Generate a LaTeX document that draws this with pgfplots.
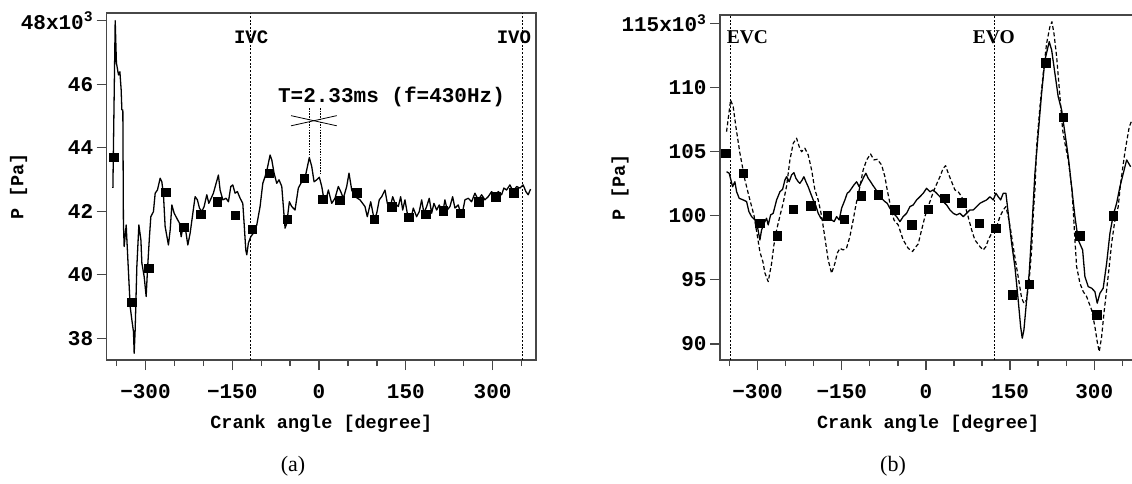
\documentclass[border=0pt]{standalone}
\usepackage{fontspec}
\setmainfont{Liberation Serif}
\setmonofont{Liberation Mono}
\usepackage{pgfplots}
\pgfplotsset{compat=1.18}
\newcommand\tickfont{\fontsize{21}{21}\selectfont\ttfamily\bfseries}
\newcommand\labfont{\fontsize{18.5}{18.5}\selectfont\ttfamily\bfseries}
\newcommand\annfont{\fontsize{19}{19}\selectfont\ttfamily\bfseries}
\newcommand\serfont{\fontsize{19.5}{19.5}\selectfont\rmfamily\bfseries}
\tikzset{vl/.style={black, line width=1.1pt, dash pattern=on 2pt off 1.6pt},
  tl/.style={black, line width=0.8pt, dash pattern=on 1.5pt off 1.2pt}}
\pgfplotsset{
  base/.style={
    scale only axis, anchor=south west,
    axis line style={draw=black!72, line width=1.3pt},
    tick align=outside, tick pos=left,
    major tick length=10pt, minor tick length=6pt,
    every tick/.append style={draw=black!72, line width=1.3pt},
    xmin=-367, xmax=375,
    xtick={-300,-150,0,150,300},
    xticklabels={−300,−150,0,150,300},
    minor xtick={-350,-250,-200,-100,-50,50,100,200,250,350},
    ticklabel style={font=\tickfont},
    xticklabel style={yshift=-10.5pt},
    label style={font=\labfont},
    xlabel={Crank angle [degree]}, ylabel={P [Pa]},
    clip=true,
  },
  mk/.style={only marks, mark=square*, mark size=4.3pt, black},
  sol/.style={black, line width=1.3pt, line join=round},
  dsh/.style={black, line width=1.2pt, line join=round, dash pattern=on 4pt off 2.5pt},
}
\begin{document}
\begin{tikzpicture}
\useasboundingbox (0,0) rectangle (1132pt,483pt);
% ---------------- (a) ----------------
\begin{axis}[base, at={(106.7pt,123pt)}, width=429.3pt, height=347pt,
  ymin=37.32, ymax=48.24,
  ytick={38,40,42,44,46,48},
  yticklabels={38,40,42,44,46,{48x10\textsuperscript{3}}},
  xlabel style={at={(axis description cs:0.5,-0.198)}, anchor=base},
  ylabel style={at={(axis description cs:-0.205,0.5)}, anchor=center},
]
\addplot[sol] coordinates {
(-356.3,42.74) (-352.3,48.00) (-350.2,46.67) (-346.6,46.29) (-344.2,46.39) (-342.0,45.82)
(-340.8,45.19) (-339.1,45.19) (-338.1,41.62) (-336.8,40.89) (-333.3,41.57) (-332.1,41.10)
(-326.4,39.00) (-323.5,38.58) (-320.7,38.21) (-319.5,37.53) (-317.8,38.27) (-314.9,40.26)
(-311.4,41.57) (-307.9,41.10) (-306.2,40.37) (-302.2,39.94) (-298.8,39.32) (-296.5,40.16)
(-293.1,41.20) (-290.7,41.83) (-286.2,41.99) (-283.2,42.57) (-279.3,42.67) (-274.6,43.04)
(-271.7,42.93) (-268.9,42.52) (-266.0,41.52) (-260.3,40.94) (-257.3,41.41) (-254.4,42.20)
(-250.4,41.94) (-245.8,41.78) (-241.3,41.63) (-238.3,41.20) (-234.4,41.57) (-230.2,41.36)
(-226.8,40.94) (-222.8,41.31) (-218.1,41.94) (-214.2,42.46) (-210.2,42.36) (-206.7,42.10)
(-202.6,41.99) (-198.6,42.15) (-194.0,42.52) (-190.5,42.25) (-186.5,42.41) (-182.6,42.57)
(-177.9,42.88) (-173.9,43.14) (-171.0,42.67) (-166.3,42.36) (-160.6,42.41) (-156.6,42.30)
(-152.5,42.78) (-149.1,42.83) (-145.1,42.57) (-141.1,42.62) (-136.4,42.41) (-131.8,42.25)
(-129.5,41.62) (-126.6,40.78) (-124.9,40.63) (-122.1,41.00) (-118.0,41.20) (-113.5,41.31)
(-107.6,41.57) (-101.9,42.15) (-97.2,42.88) (-93.3,43.09) (-89.3,43.36) (-84.6,43.77)
(-81.7,43.62) (-77.7,43.20) (-73.1,42.88) (-69.1,42.99) (-64.4,42.78) (-61.7,42.15)
(-58.7,41.47) (-55.8,41.62) (-51.3,42.30) (-47.2,42.15) (-41.5,42.04) (-35.8,42.73)
(-29.9,42.93) (-24.2,43.05) (-16.8,43.69) (-12.6,43.41) (-8.6,42.93) (-4.0,42.99)
(0.5,43.07) (4.7,42.78) (8.6,42.36) (13.3,42.46) (16.1,42.67) (21.9,42.25) (27.6,42.41)
(33.3,42.78) (37.5,42.62) (42.0,42.41) (47.8,42.78) (51.8,43.20) (56.5,42.67) (62.2,42.46)
(70.8,42.36) (79.4,42.15) (83.4,41.83) (89.3,42.30) (95.5,41.73) (99.7,41.94) (104.1,42.36)
(108.3,42.46) (114.0,42.67) (118.0,42.25) (122.6,42.10) (127.3,42.46) (131.3,42.25)
(137.0,42.15) (141.1,42.46) (144.6,42.04) (148.5,42.36) (152.5,41.94) (158.4,41.73)
(162.9,42.10) (168.7,41.83) (173.2,41.99) (177.4,42.36) (181.3,41.94) (186.0,42.15)
(190.5,42.41) (194.6,41.94) (198.6,42.25) (203.3,42.04) (207.8,42.20) (213.6,41.94)
(217.6,42.36) (221.6,42.04) (226.3,42.15) (230.9,42.46) (234.9,42.10) (240.6,42.20)
(246.5,41.83) (252.2,42.36) (257.9,42.41) (263.7,42.30) (269.4,42.57) (275.1,42.36)
(281.0,42.52) (286.7,42.36) (292.4,42.46) (298.3,42.62) (304.0,42.46) (309.7,42.62)
(315.5,42.52) (319.5,42.73) (324.2,42.67) (329.9,42.83) (335.6,42.62) (341.5,42.78)
(347.2,42.73) (352.8,42.83) (357.5,42.62) (361.5,42.52) (365.6,42.70)
};
\addplot[mk] coordinates {
(-355.3,43.70) (-323.5,39.14) (-294.8,40.21) (-264.8,42.60) (-234.4,41.50) (-204.3,41.91)
(-175.7,42.30) (-145.1,41.88) (-115.2,41.44) (-85.8,43.20) (-54.7,41.75) (-25.9,43.04)
(6.0,42.38) (35.8,42.35) (65.1,42.59) (95.3,41.75) (125.6,42.14) (154.9,41.81)
(184.8,41.91) (214.7,42.01) (244.0,41.94) (275.8,42.30) (305.7,42.46) (336.3,42.59)
};
\draw[vl] (axis cs:-118,37.32) -- (axis cs:-118,48.24);
\draw[vl] (axis cs:352,37.32) -- (axis cs:352,48.24);
\node[font=\annfont] at (axis cs:-117.4,47.49) {IVC};
\node[font=\annfont] at (axis cs:336.8,47.49) {IVO};
\draw[tl] (axis cs:-17.3,45.25) -- (axis cs:-17.3,43.71);
\draw[tl] (axis cs:2.9,45.25) -- (axis cs:2.9,43.21);
\draw[black, line width=0.8pt] (axis cs:-48.4,45.01) -- (axis cs:30.6,44.69);
\draw[black, line width=0.8pt] (axis cs:-48.4,44.69) -- (axis cs:30.6,45.01);
\node[font=\tickfont] at (axis cs:125.2,45.61) {T=2.33ms (f=430Hz)};
\end{axis}
% ---------------- (b) ----------------
\begin{axis}[base, at={(720pt,123pt)}, width=416.3pt, height=345pt,
  ymin=88.75, ymax=115.65,
  ytick={90,95,100,105,110,115},
  yticklabels={90,95,100,105,110,{115x10\textsuperscript{3}}},
  xlabel style={at={(axis description cs:0.5,-0.199)}, anchor=base},
  ylabel style={at={(axis description cs:-0.240,0.5)}, anchor=center},
]
\addplot[dsh] coordinates {
(-355.3,106.55) (-348.1,109.02) (-343.5,108.50) (-338.7,106.94) (-331.5,104.87) (-322.6,102.79)
(-313.7,101.23) (-306.6,100.06) (-300.7,98.50) (-295.9,97.18) (-290.5,96.40) (-287.0,95.54)
(-281.1,94.86) (-275.0,96.29) (-270.9,97.72) (-266.1,98.89) (-260.2,99.98) (-254.4,100.99)
(-248.3,102.32) (-242.4,104.35) (-236.5,105.65) (-230.5,106.04) (-225.8,105.38) (-221.6,104.99)
(-215.7,105.26) (-209.8,104.74) (-203.7,103.57) (-197.9,102.01) (-192.0,101.23) (-185.9,99.98)
(-180.0,98.27) (-174.2,96.55) (-168.1,95.51) (-162.2,96.29) (-158.1,97.07) (-153.3,97.46)
(-147.4,97.33) (-141.4,97.49) (-135.5,98.37) (-129.6,99.67) (-124.8,100.84) (-118.9,102.01)
(-111.8,103.57) (-105.7,104.35) (-98.6,104.81) (-92.7,104.35) (-86.8,104.40) (-79.0,103.96)
(-73.1,103.04) (-69.0,102.01) (-62.9,100.71) (-57.0,99.67) (-49.4,99.28) (-40.5,98.11)
(-31.6,97.46) (-23.7,97.21) (-19.6,97.49) (-13.7,97.80) (-7.7,98.89) (-1.8,99.93)
(4.1,100.71) (10.2,101.49) (16.0,102.16) (25.0,103.04) (30.8,103.70) (35.1,103.90)
(39.8,103.31) (45.8,102.65) (51.7,102.01) (57.6,101.87) (63.6,101.49) (69.5,100.84)
(75.4,99.90) (81.5,98.89) (87.3,98.11) (96.3,97.59) (102.1,97.33) (107.0,97.59)
(111.1,98.11) (117.1,98.63) (126.0,99.15) (131.9,99.93) (137.8,100.45) (142.6,100.71)
(146.7,99.93) (151.0,98.89) (155.6,97.59) (160.4,96.29) (166.3,94.74) (170.6,93.57)
(174.7,93.18) (179.5,93.43) (184.1,94.99) (188.4,97.33) (191.3,100.06) (194.3,102.01)
(197.3,105.38) (203.2,108.50) (209.1,111.10) (215.1,113.44) (221.0,114.73) (224.6,115.12)
(228.2,114.22) (233.0,112.40) (238.9,109.28) (243.7,106.68) (247.8,105.65) (253.7,104.35)
(259.7,102.26) (262.6,100.45) (265.6,98.11) (268.6,96.03) (274.5,94.74) (280.4,94.08)
(286.5,93.69) (295.4,92.65) (301.2,91.35) (305.3,90.18) (308.9,89.40) (313.2,90.57)
(317.3,92.40) (322.1,94.21) (326.7,96.03) (331.0,97.85) (336.9,99.67) (342.8,100.71)
(346.7,102.40) (354.7,104.97) (362.4,106.92) (367.2,107.46)
};
\addplot[sol] coordinates {
(-355.3,103.43) (-350.6,103.31) (-344.6,102.26) (-340.5,102.65) (-337.4,101.87) (-332.8,101.36)
(-325.7,101.23) (-319.6,101.10) (-315.5,100.32) (-310.7,99.93) (-304.8,99.67) (-300.7,99.28)
(-297.1,98.37) (-295.9,98.11) (-292.9,98.89) (-287.0,99.54) (-284.0,99.80) (-281.1,99.28)
(-276.8,100.06) (-272.2,100.19) (-266.1,101.23) (-260.2,101.87) (-255.4,102.06) (-251.3,102.79)
(-248.3,103.04) (-243.7,102.65) (-239.4,103.18) (-235.3,103.36) (-231.7,102.92) (-227.6,102.65)
(-224.6,102.53) (-220.5,102.79) (-217.5,103.04) (-213.9,102.65) (-209.8,102.26) (-205.5,101.75)
(-200.9,101.23) (-196.1,100.76) (-192.0,100.19) (-187.2,99.80) (-183.1,99.67) (-178.3,100.06)
(-172.4,100.19) (-168.1,99.67) (-163.5,99.54) (-159.2,99.93) (-154.5,99.67) (-150.3,100.58)
(-144.4,101.23) (-140.3,101.75) (-136.7,101.87) (-132.4,102.14) (-128.3,102.40) (-123.5,102.65)
(-118.9,102.26) (-114.6,102.65) (-110.5,103.04) (-107.0,103.31) (-102.9,102.92) (-98.6,102.65)
(-95.0,102.40) (-90.9,102.14) (-85.0,101.75) (-79.0,101.36) (-73.1,101.10) (-69.0,100.97)
(-64.2,100.58) (-58.3,100.19) (-52.2,99.93) (-46.3,99.54) (-40.5,99.93) (-34.4,100.19)
(-28.5,100.71) (-22.6,100.84) (-16.6,101.23) (-10.7,101.48) (-4.8,101.75) (1.2,102.14)
(7.1,101.87) (13.0,102.01) (19.1,101.75) (25.0,101.48) (30.8,101.10) (36.9,100.84)
(42.8,100.45) (48.7,100.19) (54.7,100.06) (60.6,100.19) (66.5,99.93) (72.5,100.19)
(78.4,100.45) (84.3,100.45) (90.4,100.71) (96.3,100.97) (102.1,101.10) (108.2,101.23)
(114.1,101.48) (120.0,101.23) (124.8,101.75) (128.9,101.48) (133.2,101.23) (137.8,101.75)
(142.6,101.75) (146.7,100.19) (152.8,97.85) (158.6,96.03) (164.5,93.43) (168.8,91.35)
(171.7,90.45) (174.7,91.10) (179.5,93.43) (184.1,95.51) (188.4,98.63) (191.3,100.97)
(194.3,103.31) (200.2,106.43) (206.2,109.54) (212.1,112.14) (219.8,113.57) (224.1,112.92)
(229.9,111.10) (235.8,109.28) (241.9,108.24) (247.8,106.43) (253.7,104.60) (259.7,102.26)
(265.6,99.93) (271.5,98.11) (279.3,97.33) (283.4,95.25) (289.3,94.47) (295.4,94.35)
(301.2,94.08) (305.3,93.18) (310.2,93.96) (316.0,94.35) (322.1,96.29) (328.0,98.63)
(333.9,100.06) (339.9,100.97) (345.8,102.26) (357.8,104.35) (364.9,103.82)
};
\addplot[mk] coordinates {
(-356.5,104.87) (-325.7,103.31) (-295.9,99.41) (-265.1,98.42) (-236.5,100.50) (-205.0,100.80)
(-175.9,100.02) (-145.6,99.73) (-115.0,101.54) (-85.0,101.62) (-55.3,100.47) (-25.8,99.28)
(4.1,100.50) (33.9,101.36) (64.2,101.02) (95.0,99.41) (124.2,99.02) (153.8,93.82)
(184.1,94.66) (213.9,111.93) (244.7,107.67) (274.5,98.42) (304.3,92.26) (333.9,99.98)
};
\draw[vl] (axis cs:-348.5,88.75) -- (axis cs:-348.5,115.65);
\draw[vl] (axis cs:123,88.75) -- (axis cs:123,115.65);
\node[font=\serfont] at (axis cs:-318.2,113.89) {EVC};
\node[font=\serfont] at (axis cs:121.2,113.89) {EVO};
\end{axis}
\node[font=\fontsize{22}{22}\selectfont\rmfamily] at (293pt,17pt) {(a)};
\node[font=\fontsize{22}{22}\selectfont\rmfamily] at (893pt,17pt) {(b)};
\end{tikzpicture}
\end{document}
